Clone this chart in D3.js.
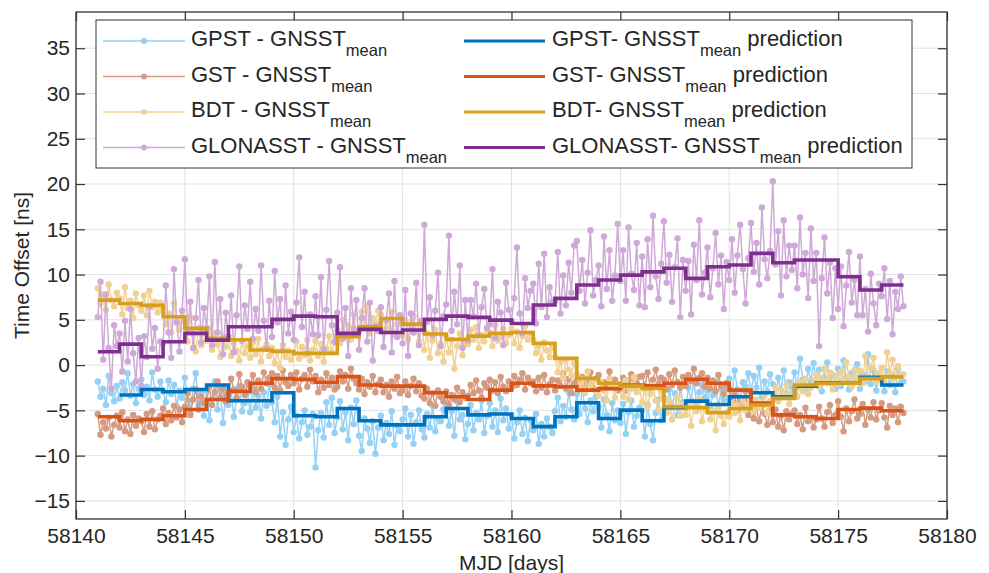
<!DOCTYPE html>
<html>
<head>
<meta charset="utf-8">
<script src="https://cdn.jsdelivr.net/npm/d3@7/dist/d3.min.js"></script>
<style>
    body { margin: 0; background: #fff; }
    text { font-family: "Liberation Sans", Arial, Helvetica, sans-serif; fill: #262626; }
</style>
</head>
<body>
<div id="chart"></div>
<script>
'use strict';

// measured offsets, one value every 3 hours from MJD 58141 (8 per day, last one at 58178)
var sampleStart = 58141,
    sampleStep = 0.125;

var gpstOffset = [
    -1.8, -3.5, -2.6, -4.4, -1.2, -3.1, -4.0, -2.3,
    -3.7, -1.9, -2.8, -0.9, -3.4, -2.1, -4.2, -2.6,
    -1.6, -3.3, -2.4, -3.9, -0.8, -2.7, -3.5, -1.8,
    -2.9, -4.1, -1.7, -3.2, -2.2, -4.5, -2.8, -3.6,
    -1.4, -3.9, -5.2, -2.6, -0.9, -4.4, -3.1, -5.6,
    -2.8, -6.1, -3.7, -1.8, -4.9, -2.5, -6.4, -3.3,
    -4.4, -2.9, -5.7, -3.8, -2.3, -5.1, -4.2, -3.1,
    -5.2, -2.6, -4.7, -3.4, -5.9, -3.0, -4.5, -2.1,
    -4.1, -6.3, -3.5, -7.9, -5.2, -8.8, -6.0, -4.6,
    -7.4, -5.6, -8.1, -6.3, -5.0, -7.7, -6.8, -5.4,
    -11.3, -7.2, -5.3, -8.0, -4.1, -6.6, -3.6, -7.5,
    -5.8, -4.0, -7.1, -5.2, -8.3, -4.7, -6.5, -3.9,
    -7.8, -9.5, -5.9, -7.0, -8.6, -6.2, -9.8, -6.9,
    -5.6, -8.3, -6.4, -7.6, -5.1, -8.8, -6.7, -7.3,
    -6.0, -4.8, -7.9, -5.5, -8.7, -6.3, -5.0, -7.1,
    -8.0, -5.4, -6.9, -4.5, -7.3, -5.9, -6.2, -4.9,
    -4.3, -6.7, -5.1, -7.8, -4.0, -6.0, -5.5, -8.2,
    -6.5, -4.4, -7.2, -5.3, -6.0, -3.9, -7.5, -5.6,
    -4.2, -6.8, -5.0, -7.4, -3.7, -6.1, -4.8, -7.0,
    -5.5, -8.1, -6.3, -5.0, -7.6, -5.8, -8.4, -6.1,
    -7.2, -5.4, -8.7, -6.5, -7.9, -5.9, -6.8, -7.5,
    -5.1, -3.6, -6.2, -4.5, -5.7, -3.0, -4.9, -6.0,
    -3.2, -5.4, -2.6, -4.8, -6.3, -3.9, -5.1, -3.5,
    -4.6, -6.9, -3.8, -5.5, -7.3, -4.2, -6.1, -5.0,
    -6.4, -4.3, -7.6, -5.2, -3.9, -6.8, -5.6, -4.7,
    -5.0, -7.9, -4.4, -6.5, -8.3, -5.3, -3.8, -6.1,
    -3.6, -5.2, -2.7, -4.6, -3.1, -5.5, -2.4, -4.1,
    -4.8, -2.5, -3.9, -1.7, -4.3, -3.0, -2.2, -3.6,
    -2.8, -4.5, -3.3, -1.9, -4.9, -2.6, -3.8, -2.3,
    -1.5, -3.2, -0.6, -2.7, -3.8, -1.9, -2.4, -0.9,
    -3.0, -1.2, -2.5, -0.3, -3.5, -1.8, -2.9, -1.0,
    -2.1, -3.7, -1.4, -2.8, -0.6, -3.2, -1.9, -2.5,
    -0.8, -2.5, 0.7, -1.6, -2.9, -0.4, -1.8, 0.2,
    -2.2, -0.5, -2.9, -1.3, 0.3, -2.0, -1.1, -2.6,
    -0.4, -2.3, 0.5, -1.5, -2.7, -0.9, -1.9, 0.1,
    -2.6, -1.0, -1.8, 1.2, -2.1, -0.6, -2.8, -1.4,
    -1.5, -2.9, -0.7, -2.2, -1.1, -3.0, -0.4, -2.0,
    -1.8
];
var gstOffset = [
    -5.4, -7.7, -6.3, -7.0, -5.8, -7.9, -6.6, -5.6,
    -6.9, -5.2, -7.3, -6.0, -7.6, -5.5, -6.7, -5.9,
    -6.2, -7.4, -5.4, -6.8, -5.1, -7.1, -6.0, -5.6,
    -4.8, -6.5, -5.3, -6.1, -4.5, -5.8, -4.9, -6.3,
    -4.6, -3.1, -5.5, -3.8, -2.7, -4.9, -3.5, -4.2,
    -3.9, -2.4, -4.4, -3.0, -1.8, -3.6, -2.6, -4.0,
    -3.1, -1.5, -2.7, -3.6, -1.0, -2.4, -3.3, -1.9,
    -2.3, -1.1, -3.0, -1.7, -2.6, -0.8, -2.0, -1.4,
    -0.9, -2.5, -1.2, -2.8, -0.6, -1.9, -2.3, -1.1,
    -2.0, -0.8, -2.7, -1.5, -1.1, -2.4, -0.5, -1.8,
    -1.2, -3.0, -1.6, -2.5, -0.9, -2.2, -1.4, -2.7,
    -2.4, -0.7, -1.8, -1.1, -2.6, -0.4, -1.5, -2.0,
    -2.7, -1.5, -3.2, -1.9, -2.4, -1.2, -3.0, -2.1,
    -1.6, -3.0, -2.2, -3.5, -1.8, -2.6, -1.3, -3.1,
    -2.8, -1.8, -3.3, -2.3, -1.5, -2.9, -2.0, -3.4,
    -3.7, -2.6, -4.2, -3.1, -4.5, -2.8, -3.5, -4.0,
    -2.9, -4.4, -3.3, -3.8, -2.5, -4.1, -3.0, -3.6,
    -3.4, -2.2, -3.1, -1.7, -2.8, -3.6, -2.0, -2.5,
    -1.6, -2.8, -1.9, -3.1, -1.3, -2.4, -2.9, -1.8,
    -2.5, -1.2, -2.2, -1.6, -0.9, -2.7, -1.4, -2.0,
    -1.8, -2.9, -1.4, -2.5, -1.1, -3.0, -2.1, -1.6,
    -2.8, -1.7, -2.3, -0.9, -2.6, -1.5, -3.1, -2.0,
    -1.7, -2.7, -1.3, -2.4, -1.9, -0.8, -2.5, -1.5,
    -1.1, -2.6, -1.9, -2.3, -0.7, -2.0, -1.6, -2.8,
    -2.4, -1.4, -2.8, -1.7, -1.0, -2.5, -2.0, -1.3,
    -1.2, -2.3, -0.8, -2.5, -1.6, -0.5, -2.1, -1.4,
    -1.6, -2.7, -1.0, -2.2, -0.6, -1.9, -2.5, -1.3,
    -2.3, -1.1, -1.8, -0.4, -2.0, -1.4, -0.9, -2.4,
    -1.4, -2.6, -1.7, -2.9, -1.1, -2.3, -3.2, -2.0,
    -2.7, -4.1, -3.3, -5.0, -3.8, -4.6, -2.9, -5.5,
    -4.3, -5.9, -4.8, -6.2, -4.5, -5.4, -6.6, -5.0,
    -6.3, -4.9, -6.8, -5.6, -7.2, -5.1, -6.0, -5.4,
    -5.0, -6.5, -5.5, -7.1, -4.7, -6.2, -5.8, -6.9,
    -6.0, -4.6, -5.9, -6.8, -5.2, -4.4, -6.4, -5.5,
    -4.0, -5.7, -7.3, -4.8, -6.2, -5.1, -3.8, -5.9,
    -5.4, -4.3, -6.6, -4.9, -5.8, -4.1, -6.0, -5.0,
    -4.2, -5.8, -6.9, -4.5, -5.5, -4.8, -6.3, -4.6,
    -5.3
];
var bdtOffset = [
    8.5, 6.8, 7.8, 6.1, 8.9, 7.2, 6.5, 8.0,
    7.4, 5.6, 8.6, 6.3, 7.1, 5.2, 7.9, 6.6,
    6.0, 7.7, 5.5, 8.2, 6.4, 7.0, 5.8, 6.9,
    6.2, 4.5, 5.7, 3.6, 6.8, 4.9, 3.9, 5.3,
    4.8, 2.6, 5.3, 3.4, 1.5, 4.1, 2.2, 3.8,
    2.7, 4.0, 1.7, 3.5, 2.3, 0.9, 3.1, 2.0,
    2.9, 1.0, 2.4, 1.6, 0.5, 2.7, 1.3, 2.1,
    0.8, 2.5, 1.2, 2.9, 0.4, 1.8, 2.3, 1.0,
    1.9, 0.2, 1.5, -0.3, 2.2, 0.9, 1.6, 0.6,
    1.3, 2.6, 0.7, 2.0, 1.1, 2.8, 0.5, 1.7,
    2.7, 1.0, 2.3, 0.4, 1.8, 3.2, 1.4, 2.5,
    3.9, 2.4, 5.0, 3.1, 4.4, 2.8, 5.6, 3.5,
    3.8, 5.9, 4.3, 6.5, 3.5, 5.2, 4.6, 6.0,
    5.6, 3.6, 4.9, 4.0, 5.9, 3.3, 4.5, 5.1,
    3.3, 4.9, 2.9, 4.3, 5.4, 3.7, 2.6, 4.6,
    1.7, 3.5, 0.8, 2.7, 3.9, 1.3, 2.4, 0.4,
    3.2, 1.4, 2.8, -0.4, 2.1, 3.5, 1.1, 2.5,
    2.3, 3.9, 2.8, 4.2, 1.9, 3.3, 2.6, 3.7,
    3.6, 2.1, 4.4, 2.7, 3.1, 4.0, 2.4, 3.3,
    4.0, 2.4, 3.7, 1.9, 3.2, 4.3, 2.8, 3.5,
    2.8, 1.3, 2.1, 0.6, 2.5, 1.6, 0.9, 2.0,
    0.9, -0.8, 0.4, -1.4, 0.6, -0.5, -1.2, 0.2,
    -1.0, -2.6, -1.5, -3.1, -0.7, -2.2, -1.8, -2.9,
    -3.4, -1.9, -2.8, -3.9, -1.5, -2.5, -3.6, -2.1,
    -2.2, -3.5, -1.7, -3.8, -2.6, -1.3, -3.0, -2.4,
    -4.1, -2.7, -4.6, -3.2, -2.3, -3.9, -4.9, -3.0,
    -3.7, -5.3, -4.0, -6.0, -4.5, -3.5, -5.6, -4.3,
    -5.5, -4.1, -6.7, -4.6, -5.1, -3.8, -6.2, -4.9,
    -4.4, -6.0, -5.0, -7.2, -4.7, -5.6, -6.5, -5.2,
    -5.7, -4.2, -5.3, -4.6, -6.1, -3.9, -5.0, -4.4,
    -3.7, -5.1, -3.8, -4.7, -4.2, -3.3, -5.3, -4.0,
    -3.6, -2.5, -4.0, -2.9, -3.3, -2.2, -4.3, -3.0,
    -2.2, -3.5, -1.9, -2.9, -1.5, -3.2, -2.5, -1.7,
    -1.0, -2.4, -1.5, -0.4, -2.0, -0.8, -2.7, -1.2,
    -2.1, -0.7, -1.7, 0.3, -1.3, -2.4, -0.5, -1.5,
    -0.6, -2.0, 1.0, -1.5, -0.3, 0.8, -1.8, -0.9,
    -0.3, -1.8, 1.4, -0.9, 0.6, -1.4, -0.1, -1.1,
    -1.0
];
var glonasstOffset = [
    5.3, 9.2, 0.6, 7.8, 1.9, -2.6, 4.4, 2.1,
    3.5, -0.7, 4.9, 0.4, 6.2, 1.3, -1.8, 3.0,
    -2.3, 3.2, 0.9, 6.5, 1.8, 4.1, -0.4, 2.6,
    2.4, 8.8, 3.6, 0.8, 10.6, 4.7, 1.5, 6.0,
    11.7, 3.9, 7.0, 1.9, 5.2, 9.4, 2.5, 6.3,
    4.1, 9.8, 2.2, 11.4, 3.6, 7.3, 1.2, 5.8,
    3.2, 7.7, 1.4, 5.5, 10.9, 2.7, 6.6, 4.0,
    9.2, 2.9, 6.2, 3.8, 11.0, 4.9, 1.8, 7.1,
    3.1, 10.4, 4.7, 7.3, 1.6, 8.8, 3.5, 5.9,
    2.8, 6.9, 11.9, 4.2, 8.1, 1.3, 5.6, 3.4,
    7.6, 3.3, 9.7, 1.7, 6.1, 11.5, 4.4, 2.6,
    5.8, 10.8, 2.9, 6.3, 1.0, 8.5, 4.0, 7.2,
    1.7, 5.2, 8.5, 2.6, 6.9, 0.5, 4.3, 3.8,
    6.4, 2.0, 5.0, 7.9, 1.4, 9.3, 3.1, 5.5,
    2.4, 8.3, 1.0, 5.7, 3.6, 9.1, 2.2, 4.9,
    15.5, 4.8, 7.5, 3.3, 6.0, 10.2, 2.1, 5.4,
    6.7, 14.3, 3.8, 8.1, 4.5, 11.0, 1.9, 7.2,
    2.7, 7.2, 5.4, 9.0, 3.3, 6.4, 8.4, 4.1,
    4.5, 10.6, 3.0, 7.0, 5.8, 2.2, 9.1, 6.1,
    4.9, 7.4, 13.0, 5.7, 3.5, 9.6, 6.3, 8.2,
    9.0, 4.6, 11.2, 6.4, 12.3, 5.3, 8.6, 7.0,
    7.1, 12.5, 5.7, 9.9, 6.6, 11.3, 8.0, 13.2,
    13.7, 8.2, 11.6, 6.8, 10.2, 14.9, 7.7, 9.4,
    11.0, 6.5, 14.2, 8.4, 12.7, 7.1, 9.9, 15.6,
    9.3, 12.7, 7.1, 15.2, 10.1, 8.3, 13.5, 6.6,
    12.0, 6.4, 13.9, 8.6, 16.5, 9.8, 7.3, 11.2,
    15.9, 9.1, 12.2, 7.0, 10.8, 14.0, 5.3, 11.6,
    8.2, 11.5, 5.6, 13.3, 9.4, 16.0, 7.8, 10.2,
    13.0, 7.5, 10.7, 14.6, 8.9, 12.1, 6.2, 11.4,
    9.4, 13.9, 8.0, 12.1, 15.5, 10.6, 6.8, 11.8,
    15.7, 10.3, 13.5, 8.9, 17.4, 11.7, 9.6, 12.6,
    20.3, 11.1, 14.8, 7.7, 16.0, 9.8, 13.2, 10.5,
    13.2, 8.5, 16.3, 10.0, 12.4, 7.4, 15.1, 9.3,
    12.4, 2.1, 9.6, 14.1, 7.9, 11.3, 5.2, 10.7,
    6.2, 10.9, 4.3, 8.8, 12.5, 6.9, 9.4, 5.5,
    12.0, 5.5, 8.4, 3.7, 10.1, 6.8, 4.4, 9.0,
    7.6, 10.7, 5.1, 9.3, 3.4, 8.1, 6.2, 9.8,
    6.5
];

// daily predictions (one value per day, held until the next day)
var predEnd = 58178;
var gpstPredStart = 58142;
var gpstPred = [
    -3.3, -2.7, -2.95, -2.7, -2.2, -3.94, -3.94, -3.06, -5.6, -5.7, -4.8, -6.15,
    -6.6, -6.6, -5.7, -4.8, -5.5, -5.4, -5.9, -6.8, -5.7, -4.16, -5.9, -4.97,
    -6.15, -4.7, -3.98, -4.35, -3.5, -3.06, -3.5, -2.32, -1.95, -2.0, -1.36, -2.2
];
var otherPredStart = 58141;
var gstPred = [
    -5.7, -6.15, -6.0, -5.6, -4.9, -3.8, -2.9, -2.0, -1.5, -1.58, -1.9, -1.27,
    -2.2, -2.32, -2.32, -3.06, -3.5, -3.8, -2.76, -2.0, -2.3, -2.4, -2.76, -2.6,
    -2.2, -2.3, -2.0, -1.58, -2.0, -2.76, -4.2, -5.5, -5.7, -5.9, -4.9, -4.75, -5.05
];
var bdtPred = [
    7.18, 6.8, 6.6, 5.34, 4.05, 2.95, 2.8, 1.66, 1.5, 1.29, 1.29, 3.13,
    4.24, 5.15, 4.53, 3.43, 2.84, 3.2, 3.5, 3.6, 2.4, 0.74, -1.47, -2.0,
    -2.32, -2.58, -4.6, -4.7, -5.27, -4.8, -4.4, -3.68, -2.2, -2.0, -2.0, -1.5, -1.3
];
var glonasstPred = [
    1.47, 2.32, 0.92, 2.58, 3.5, 2.76, 4.24, 4.24, 5.05, 5.41, 5.34, 3.5,
    3.94, 3.6, 3.87, 5.05, 5.41, 5.27, 4.97, 4.6, 6.63, 7.37, 8.84, 9.4,
    9.94, 10.3, 10.7, 9.58, 10.86, 11.05, 12.34, 11.3, 11.6, 11.6, 9.76, 8.29, 8.84
];

var xTicks = [58140, 58145, 58150, 58155, 58160, 58165, 58170, 58175, 58180];
var yTicks = [-15, -10, -5, 0, 5, 10, 15, 20, 25, 30, 35];

var measured = [
    {name: 'GPST - GNSST', values: gpstOffset, color: '#95d1f4'},
    {name: 'GST - GNSST', values: gstOffset, color: '#d59a80'},
    {name: 'BDT - GNSST', values: bdtOffset, color: '#f1d193'},
    {name: 'GLONASST - GNSST', values: glonasstOffset, color: '#cfa9d7'}
];
var predicted = [
    {name: 'GPST- GNSST', start: gpstPredStart, values: gpstPred, color: '#0072bd'},
    {name: 'GST- GNSST', start: otherPredStart, values: gstPred, color: '#d95319'},
    {name: 'BDT- GNSST', start: otherPredStart, values: bdtPred, color: '#d6a01c'},
    {name: 'GLONASST- GNSST', start: otherPredStart, values: glonasstPred, color: '#7e2f8e'}
];

var width = 989,
    height = 573,
    axLeft = 76, axRight = 947, axTop = 12, axBottom = 519;

var x = d3.scaleLinear().domain([58140, 58180]).range([axLeft, axRight]);
var y = d3.scaleLinear().domain([-17, 39]).range([axBottom, axTop]);

var svg = d3.select('#chart').append('svg')
    .attr('width', width)
    .attr('height', height);

// grid
var grid = svg.append('g').attr('class', 'grid');
grid.selectAll('line.gx').data(xTicks).enter().append('line')
    .attr('x1', x).attr('x2', x).attr('y1', axTop).attr('y2', axBottom)
    .attr('stroke', '#e2e2e2').attr('stroke-width', 1);
grid.selectAll('line.gy').data(yTicks).enter().append('line')
    .attr('y1', y).attr('y2', y).attr('x1', axLeft).attr('x2', axRight)
    .attr('stroke', '#e2e2e2').attr('stroke-width', 1);

// data
var plot = svg.append('g').attr('class', 'plot');
var sampleLine = d3.line()
    .x(function (d, i) { return x(sampleStart + i * sampleStep); })
    .y(function (d) { return y(d); });

measured.forEach(function (s) {
    var g = plot.append('g');
    g.append('path')
        .attr('d', sampleLine(s.values))
        .attr('fill', 'none')
        .attr('stroke', s.color)
        .attr('stroke-width', 1.5);
    g.selectAll('circle').data(s.values).enter().append('circle')
        .attr('cx', function (d, i) { return x(sampleStart + i * sampleStep); })
        .attr('cy', function (d) { return y(d); })
        .attr('r', 3.2)
        .attr('fill', s.color);
});

var stepLine = d3.line()
    .curve(d3.curveStepAfter)
    .x(function (d) { return x(d.day); })
    .y(function (d) { return y(d.value); });

predicted.forEach(function (s) {
    var pts = s.values.map(function (v, i) { return {day: s.start + i, value: v}; });
    pts.push({day: predEnd, value: s.values[s.values.length - 1]});
    plot.append('path')
        .attr('d', stepLine(pts))
        .attr('fill', 'none')
        .attr('stroke', s.color)
        .attr('stroke-width', 3.6);
});

// axes, ticks pointing inward on all four sides
var axisColor = '#333';
var xAxis = svg.append('g')
    .attr('transform', 'translate(0,' + axBottom + ')')
    .call(d3.axisBottom(x).tickValues(xTicks).tickSize(-9).tickPadding(9).tickFormat(d3.format('d')));
var yAxis = svg.append('g')
    .attr('transform', 'translate(' + axLeft + ',0)')
    .call(d3.axisLeft(y).tickValues(yTicks).tickSize(-9).tickPadding(6));
var topAxis = svg.append('g')
    .attr('transform', 'translate(0,' + axTop + ')')
    .call(d3.axisTop(x).tickValues(xTicks).tickSize(-9).tickFormat(''));
var rightAxis = svg.append('g')
    .attr('transform', 'translate(' + axRight + ',0)')
    .call(d3.axisRight(y).tickValues(yTicks).tickSize(-9).tickFormat(''));

[xAxis, yAxis, topAxis, rightAxis].forEach(function (a) {
    a.select('.domain').remove();
    a.selectAll('.tick line').attr('stroke', axisColor).attr('stroke-width', 1.2);
    a.selectAll('.tick text')
        .attr('fill', '#262626')
        .style('font-size', '21px')
        .style('font-family', '"Liberation Sans", Arial, sans-serif');
});

svg.append('rect')
    .attr('x', axLeft).attr('y', axTop)
    .attr('width', axRight - axLeft).attr('height', axBottom - axTop)
    .attr('fill', 'none')
    .attr('stroke', axisColor)
    .attr('stroke-width', 1.3);

// axis labels
svg.append('text')
    .attr('x', (axLeft + axRight) / 2).attr('y', 570)
    .attr('text-anchor', 'middle')
    .style('font-size', '21px')
    .text('MJD [days]');
svg.append('text')
    .attr('transform', 'translate(29,' + (axTop + axBottom) / 2 + ') rotate(-90)')
    .attr('text-anchor', 'middle')
    .style('font-size', '21px')
    .text('Time Offset [ns]');

// legend
var legend = svg.append('g').attr('class', 'legend');
legend.append('rect')
    .attr('x', 96).attr('y', 20)
    .attr('width', 816).attr('height', 148)
    .attr('fill', '#fff')
    .attr('stroke', axisColor)
    .attr('stroke-width', 1);

var rowY = [41, 76.5, 112, 147.5];

function legendLabel(g, tx, ty, name, suffix) {
    var t = g.append('text')
        .attr('x', tx).attr('y', ty)
        .style('font-size', '22px');
    t.append('tspan').text(name);
    t.append('tspan').attr('dy', 10).style('font-size', '16.5px').text('mean');
    if (suffix) {
        t.append('tspan').attr('dy', -10).text(suffix);
    }
}

measured.forEach(function (s, i) {
    var g = legend.append('g');
    g.append('line')
        .attr('x1', 103).attr('x2', 185)
        .attr('y1', rowY[i]).attr('y2', rowY[i])
        .attr('stroke', s.color).attr('stroke-width', 1.4);
    g.append('circle')
        .attr('cx', 144).attr('cy', rowY[i]).attr('r', 3)
        .attr('fill', s.color);
    legendLabel(g, 191, rowY[i] + 5, s.name, null);
});

predicted.forEach(function (s, i) {
    var g = legend.append('g');
    g.append('line')
        .attr('x1', 464).attr('x2', 545)
        .attr('y1', rowY[i]).attr('y2', rowY[i])
        .attr('stroke', s.color).attr('stroke-width', 3.2);
    legendLabel(g, 552, rowY[i] + 5, s.name, ' prediction');
});
</script>
</body>
</html>
